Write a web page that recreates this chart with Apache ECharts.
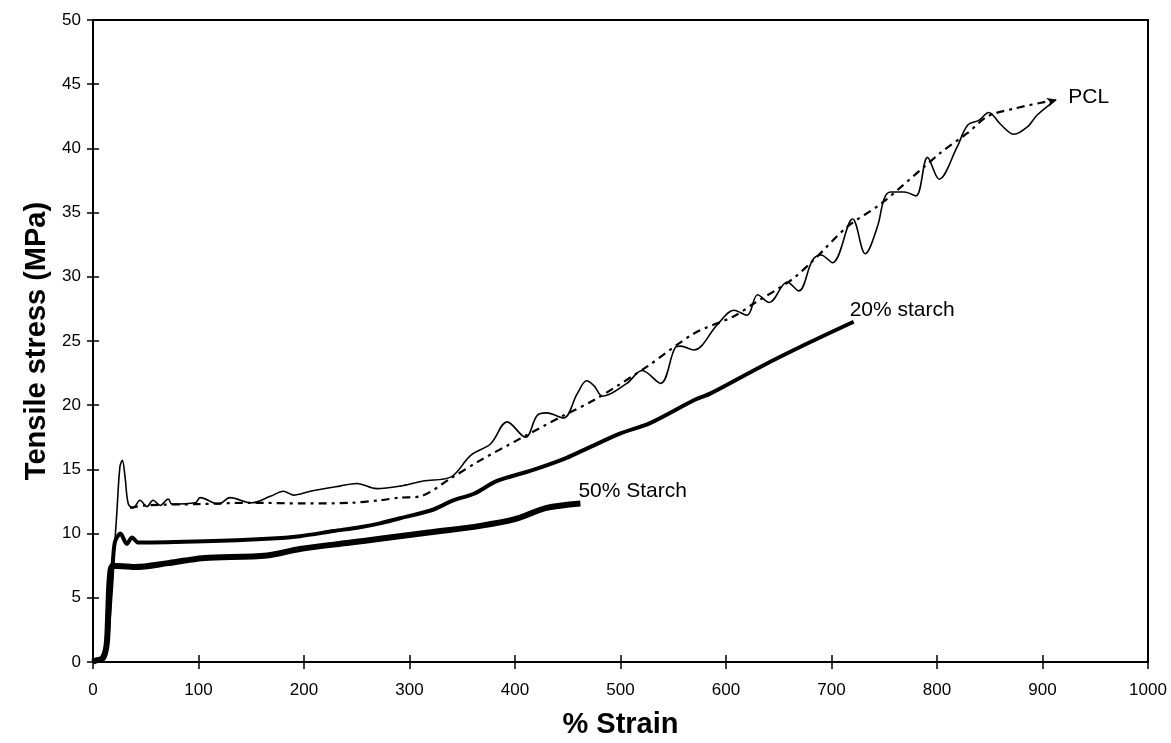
<!DOCTYPE html>
<html>
<head>
<meta charset="utf-8">
<title>Tensile stress vs strain</title>
<script src="https://cdn.jsdelivr.net/npm/echarts@6/dist/echarts.min.js"></script>
<style>
  html, body { margin: 0; padding: 0; background: #fff; }
  #chart { width: 1171px; height: 743px; }
</style>
</head>
<body>
<div id="chart"></div>
<script>
// PCL measured curve (thin solid)
const pclStrain = [0, 8, 13, 17, 20, 22.5, 25.5, 27.8, 30.4, 33.5, 38, 44.6, 51, 57, 63.6, 71.4, 74.7, 97, 101.5, 119,
    130, 150, 168, 180.6, 190, 206, 234, 250, 269, 291, 313, 339, 358, 377, 392.5, 410, 421, 430, 446, 459,
    468, 475, 483, 506, 520.5, 538, 552, 557, 569.5, 592, 607.5, 620, 630, 641, 658, 669, 682, 690, 701, 720,
    732, 743.5, 750, 756, 769, 780, 791, 802, 819, 829, 840, 849, 860, 873, 886, 895, 913];
const pclStress = [0, 0.3, 1.5, 5, 8.5, 11.5, 15.2, 15.7, 14.4, 12.3, 12.0, 12.6, 12.1, 12.6, 12.2, 12.7, 12.3, 12.4, 12.8, 12.3,
    12.8, 12.4, 12.9, 13.3, 13.0, 13.3, 13.7, 13.9, 13.5, 13.7, 14.1, 14.4, 16.1, 17.0, 18.7, 17.5, 19.2, 19.4, 19.0, 20.9,
    21.9, 21.5, 20.7, 21.7, 22.7, 21.7, 24.5, 24.6, 24.3, 26.3, 27.4, 27.0, 28.6, 28.0, 29.6, 28.9, 31.3, 31.7, 31.1, 34.5,
    31.8, 33.9, 36.1, 36.6, 36.6, 36.3, 39.3, 37.6, 40.1, 41.8, 42.2, 42.8, 41.9, 41.1, 41.7, 42.6, 43.8];

// PCL trend (dash-dot)
const fitStrain = [35, 50, 100, 150, 200, 245, 272, 291, 310, 339, 367, 405, 446, 475, 525, 570, 607, 626, 661, 683,
    715, 747, 804, 829, 848, 873, 913];
const fitStress = [12.0, 12.2, 12.3, 12.4, 12.35, 12.4, 12.6, 12.8, 12.9, 14.3, 15.7, 17.4, 19.2, 20.4, 23.0, 25.6, 26.9, 27.9, 29.7, 31.3,
    33.9, 35.7, 39.7, 41.2, 42.5, 43.1, 43.8];

// 20% starch
const s20Strain = [0, 8, 13, 17, 19, 21, 26, 32, 37, 43, 106, 165, 196, 228, 253, 272, 291, 320, 342, 361,
    383, 415, 446, 465, 500, 528, 570, 585, 633, 677, 721];
const s20Stress = [0, 0.3, 1.5, 5.5, 8, 9.4, 10.0, 9.2, 9.7, 9.3, 9.4, 9.6, 9.8, 10.2, 10.5, 10.8, 11.2, 11.8, 12.6, 13.1,
    14.1, 14.9, 15.8, 16.5, 17.8, 18.6, 20.4, 20.9, 23.0, 24.8, 26.5];

// 50% starch
const s50Strain = [0, 2, 9.5, 13, 14.5, 16, 19, 40, 71, 87, 106, 165, 196, 244, 272, 320, 367, 399, 430, 462];
const s50Stress = [0, 0.1, 0.3, 1.4, 4.0, 6.6, 7.5, 7.4, 7.7, 7.9, 8.1, 8.3, 8.8, 9.3, 9.6, 10.1, 10.6, 11.1, 12.0, 12.35];

const zip = (xs, ys) => xs.map((x, i) => [x, ys[i]]);

const font = 'Liberation Sans, Arial, Helvetica, sans-serif';

let fitData = zip(fitStrain, fitStress).map(p => ({ value: p }));
fitData[fitData.length - 1] = {
    value: fitData[fitData.length - 1].value,
    symbol: 'arrow', symbolSize: [7, 9], symbolRotate: -72,
    itemStyle: { color: '#000' }
};

let myChart = echarts.init(document.getElementById('chart'));
let option = {
    backgroundColor: '#fff',
    animation: false,
    grid: {
        left: 93, right: 23, top: 20, bottom: 81,
        outerBoundsMode: 'none',
        show: true, borderColor: '#000', borderWidth: 2
    },
    xAxis: [
        {
            type: 'value', min: 0, max: 1000, interval: 100,
            name: '% Strain', nameLocation: 'middle', nameGap: 48,
            nameTextStyle: { fontFamily: font, fontWeight: 'bold', fontSize: 29, color: '#000' },
            axisLine: { lineStyle: { color: '#000', width: 2 } },
            axisTick: { show: true, inside: false, length: 7, lineStyle: { color: '#000', width: 1.5 } },
            axisLabel: { color: '#000', fontFamily: font, fontSize: 17, margin: 20, formatter: v => String(v) },
            splitLine: { show: false }
        },
        {
            type: 'value', min: 0, max: 1000, interval: 100, position: 'bottom',
            axisLine: { show: false },
            axisTick: { show: true, inside: true, length: 7, lineStyle: { color: '#000', width: 1.5 } },
            axisLabel: { show: false },
            splitLine: { show: false }
        }
    ],
    yAxis: [
        {
            type: 'value', min: 0, max: 50, interval: 5,
            name: 'Tensile stress (MPa)', nameLocation: 'middle', nameGap: 36,
            nameTextStyle: { fontFamily: font, fontWeight: 'bold', fontSize: 29, color: '#000' },
            axisLine: { show: true, lineStyle: { color: '#000', width: 2 } },
            axisTick: { show: true, inside: false, length: 6, lineStyle: { color: '#000', width: 1.5 } },
            axisLabel: { color: '#000', fontFamily: font, fontSize: 17, margin: 12 },
            splitLine: { show: false }
        },
        {
            type: 'value', min: 0, max: 50, interval: 5, position: 'left',
            axisLine: { show: false },
            axisTick: { show: true, inside: true, length: 6, lineStyle: { color: '#000', width: 1.5 } },
            axisLabel: { show: false },
            splitLine: { show: false }
        }
    ],
    series: [
        {
            name: '50% Starch',
            type: 'line',
            data: zip(s50Strain, s50Stress),
            showSymbol: false,
            smooth: 0.3,
            lineStyle: { color: '#000', width: 6 },
            endLabel: {
                show: true, formatter: '50% Starch', distance: 0, offset: [-2, -12],
                color: '#000', fontFamily: font, fontSize: 21
            }
        },
        {
            name: '20% starch',
            type: 'line',
            data: zip(s20Strain, s20Stress),
            showSymbol: false,
            smooth: 0.3,
            lineStyle: { color: '#000', width: 4 },
            endLabel: {
                show: true, formatter: '20% starch', distance: 0, offset: [-4, -12],
                color: '#000', fontFamily: font, fontSize: 21
            }
        },
        {
            name: 'PCL fit',
            type: 'line',
            data: fitData,
            symbol: 'none',
            showSymbol: true,
            showAllSymbol: true,
            smooth: 0.3,
            lineStyle: { color: '#000', width: 2.2, type: [8, 5, 3, 5] },
            endLabel: {
                show: true, formatter: 'PCL', distance: 0, offset: [12, -2],
                color: '#000', fontFamily: font, fontSize: 21
            }
        },
        {
            name: 'PCL',
            type: 'line',
            data: zip(pclStrain, pclStress),
            showSymbol: false,
            smooth: 0.35,
            lineStyle: { color: '#000', width: 1.6 }
        }
    ]
};
myChart.setOption(option);
</script>
</body>
</html>
